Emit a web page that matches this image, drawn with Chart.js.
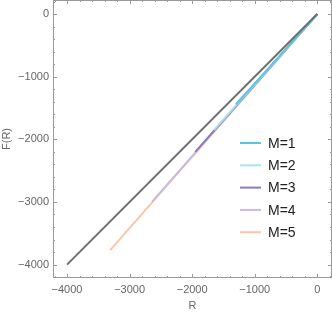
<!DOCTYPE html>
<html>
<head>
<meta charset="utf-8">
<script src="https://cdn.jsdelivr.net/npm/chart.js@4/dist/chart.umd.min.js"></script>
<style>
  html, body { margin: 0; padding: 0; background: #fff; }
  #wrap { width: 332px; height: 313px; }
</style>
</head>
<body>
<div id="wrap"><canvas id="chart" width="332" height="313"></canvas></div>
<script>
// values
var seriesNames = ["M=1", "M=2", "M=3", "M=4", "M=5"];
var seriesColors = ["#5bc4de", "#a9e4ee", "#8c7bbf", "#c6bbe0", "#ffc3aa"];
var refR = [-4000, 0];
var refF = [-4000, 0];
var m1R = [-1300, -650, 0];
var m1F = [-1440, -720, 0];
var m2R = [-1650, -820, 0];
var m2F = [-1850, -920, 0];
var m3R = [-1950, -980, 0];
var m3F = [-2200, -1105, 0];
var m4R = [-2640, -1320, 0];
var m4F = [-2995, -1500, 0];
var m5R = [-3310, -1650, 0];
var m5F = [-3770, -1880, 0];
var tickValues = [-4000, -3000, -2000, -1000, 0];

function pts(xs, ys) {
	var out = [];
	for (var i = 0; i < xs.length; i++) out.push({x: xs[i], y: ys[i]});
	return out;
}

function fmt(v) {
	return v < 0 ? "\u2212" + Math.abs(v) : String(v);
}

var allR = [m1R, m2R, m3R, m4R, m5R];
var allF = [m1F, m2F, m3F, m4F, m5F];

var datasets = [{
	label: "ref",
	data: pts(refR, refF),
	borderColor: "#6e6e6e",
	borderWidth: 2,
	pointRadius: 0
}];
for (var i = 0; i < 5; i++) {
	datasets.push({
		label: seriesNames[i],
		data: pts(allR[i], allF[i]),
		borderColor: seriesColors[i],
		borderWidth: 2,
		pointRadius: 0
	});
}

// frame with inward major/minor ticks, mathematica style
var framePlugin = {
	id: "frame",
	afterDatasetsDraw: function (chart) {
		var ctx = chart.ctx, a = chart.chartArea;
		var xs = chart.scales.x, ys = chart.scales.y;
		ctx.save();
		ctx.strokeStyle = "#9a9a9a";
		ctx.lineWidth = 1;
		ctx.strokeRect(a.left + 0.5, a.top + 0.5, a.right - a.left - 1, a.bottom - a.top - 1);
		ctx.beginPath();
		for (var v = -4200; v <= 200; v += 200) {
			var major = v % 1000 === 0;
			var len = major ? 4 : 2;
			var px = Math.round(xs.getPixelForValue(v)) + 0.5;
			if (px > a.left && px < a.right) {
				ctx.moveTo(px, a.bottom); ctx.lineTo(px, a.bottom - len);
				ctx.moveTo(px, a.top); ctx.lineTo(px, a.top + len);
			}
			var py = Math.round(ys.getPixelForValue(v)) + 0.5;
			if (py > a.top && py < a.bottom) {
				ctx.moveTo(a.left, py); ctx.lineTo(a.left + len, py);
				ctx.moveTo(a.right, py); ctx.lineTo(a.right - len, py);
			}
		}
		ctx.stroke();

		// legend
		ctx.font = "14px 'Liberation Sans', Arial, sans-serif";
		ctx.textBaseline = "middle";
		ctx.fillStyle = "#222";
		for (var i = 0; i < seriesNames.length; i++) {
			var ly = 143 + i * 22.3;
			ctx.strokeStyle = seriesColors[i];
			ctx.lineWidth = 2;
			ctx.beginPath();
			ctx.moveTo(240, ly); ctx.lineTo(261, ly);
			ctx.stroke();
			ctx.fillText(seriesNames[i], 268, ly + 1);
		}
		ctx.restore();
	}
};

new Chart(document.getElementById("chart").getContext("2d"), {
	type: "line",
	data: { datasets: datasets },
	options: {
		responsive: false,
		animation: false,
		layout: { padding: 0 },
		plugins: { legend: { display: false }, tooltip: { enabled: false } },
		scales: {
			x: {
				type: "linear",
				min: -4224, max: 235,
				afterFit: function (s) { s.height = 35; s.paddingLeft = 0; s.paddingRight = 0; },
				afterBuildTicks: function (s) { s.ticks = tickValues.map(function (v) { return {value: v}; }); },
				grid: { display: false, drawTicks: false },
				border: { display: false },
				ticks: {
					color: "#666", padding: 5,
					font: { family: "'Liberation Sans', Arial, sans-serif", size: 11 },
					callback: function (v) { return fmt(v); }
				},
				title: { display: true, text: "R", color: "#666", padding: { top: 1, bottom: 0 },
					font: { family: "'Liberation Sans', Arial, sans-serif", size: 11 } }
			},
			y: {
				type: "linear",
				min: -4214, max: 224,
				afterFit: function (s) { s.width = 53; s.paddingTop = 0; s.paddingBottom = 0; },
				afterBuildTicks: function (s) { s.ticks = tickValues.map(function (v) { return {value: v}; }); },
				grid: { display: false, drawTicks: false },
				border: { display: false },
				ticks: {
					color: "#666", padding: 4,
					font: { family: "'Liberation Sans', Arial, sans-serif", size: 11 },
					callback: function (v) { return fmt(v); }
				},
				title: { display: true, text: "F(R)", color: "#666", padding: 0,
					font: { family: "'Liberation Sans', Arial, sans-serif", size: 11 } }
			}
		}
	},
	plugins: [framePlugin]
});
</script>
</body>
</html>
